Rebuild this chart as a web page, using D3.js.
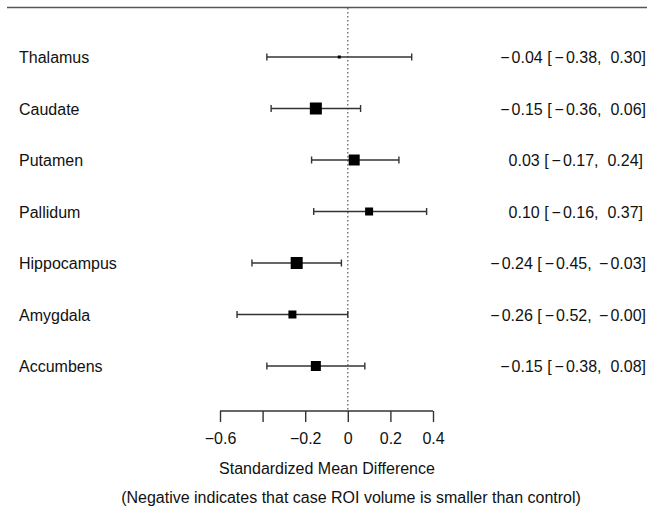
<!DOCTYPE html>
<meta charset="utf-8">
<style>
body { margin: 0; background: #fff; }
svg { font-family: "Liberation Sans", Arial, sans-serif; }
.lab { font-size: 16px; fill: #111; }
.minus { letter-spacing: 2px; }
</style>
<div id="chart"></div>
<script src="https://d3js.org/d3.v7.min.js"></script>
<script>
var regions = ["Thalamus", "Caudate", "Putamen", "Pallidum", "Hippocampus", "Amygdala", "Accumbens"];
var est = [-0.04, -0.15, 0.03, 0.10, -0.24, -0.26, -0.15];
var lower = [-0.38, -0.36, -0.17, -0.16, -0.45, -0.52, -0.38];
var upper = [0.30, 0.06, 0.24, 0.37, -0.03, -0.00, 0.08];
var boxSize = [3, 12, 11, 8, 12, 8, 10];   // square side (study weight)
var ticks = [-0.6, -0.4, -0.2, 0, 0.2, 0.4];
var tickLabels = ["−0.6", "", "−0.2", "0", "0.2", "0.4"];

var width = 647, height = 512;
var svg = d3.select("#chart").append("svg").attr("width", width).attr("height", height);

var x = d3.scaleLinear().domain([-0.6, 0.4]).range([220, 433]);
var y = d3.scalePoint().domain(regions).range([57, 366]);

function fmt(v) {
  var s = v.toFixed(2);
  if (v < 0 || Object.is(v, -0)) s = "−" + Math.abs(v).toFixed(2);
  return s;
}
function fmtHi(v) {
  return (v >= 0 && !Object.is(v, -0)) ? " " + fmt(v) : fmt(v);
}

// top rule
svg.append("line").attr("x1", 7).attr("x2", width).attr("y1", 7.5).attr("y2", 7.5)
  .attr("stroke", "#555").attr("stroke-width", 1.3);

// null line
svg.append("line").attr("x1", x(0)).attr("x2", x(0)).attr("y1", 8).attr("y2", 411)
  .attr("stroke", "#666").attr("stroke-dasharray", "1.5,2.5").attr("stroke-width", 1.3);

var rows = svg.selectAll("g.row").data(regions).enter().append("g").attr("class", "row");

rows.append("text").attr("class", "lab").attr("x", 19).attr("y", d => y(d) + 6).text(d => d);

rows.append("line")
  .attr("x1", (d, i) => x(lower[i])).attr("x2", (d, i) => x(upper[i]))
  .attr("y1", d => y(d)).attr("y2", d => y(d))
  .attr("stroke", "#333").attr("stroke-width", 1.4);

rows.append("line")
  .attr("x1", (d, i) => x(lower[i])).attr("x2", (d, i) => x(lower[i]))
  .attr("y1", d => y(d) - 3.5).attr("y2", d => y(d) + 3.5)
  .attr("stroke", "#333").attr("stroke-width", 1.4);
rows.append("line")
  .attr("x1", (d, i) => x(upper[i])).attr("x2", (d, i) => x(upper[i]))
  .attr("y1", d => y(d) - 3.5).attr("y2", d => y(d) + 3.5)
  .attr("stroke", "#333").attr("stroke-width", 1.4);

rows.append("rect")
  .attr("x", (d, i) => x(est[i]) - boxSize[i] / 2)
  .attr("y", (d, i) => y(d) - boxSize[i] / 2)
  .attr("width", (d, i) => boxSize[i]).attr("height", (d, i) => boxSize[i])
  .attr("fill", "#000");

// right-hand estimate [CI] text; minus signs get a little extra room
rows.each(function(d, i) {
  var s = fmt(est[i]) + " [" + fmt(lower[i]) + ", " + fmtHi(upper[i]) + "]";
  var t = d3.select(this).append("text").attr("class", "lab").attr("text-anchor", "end")
    .attr("x", 643).attr("y", y(d) + 6).style("white-space", "pre");
  s.split(/(−)/).forEach(function(part) {
    if (!part) return;
    var ts = t.append("tspan").text(part);
    if (part === "−") ts.attr("class", "minus").attr("dx", 3);
  });
});

// axis
var axis = d3.axisBottom(x).tickValues(ticks).tickSize(11).tickPadding(11)
  .tickFormat((d, i) => tickLabels[i]);
var ag = svg.append("g").attr("transform", "translate(0,411)").call(axis);
ag.select(".domain").attr("stroke", "#333").attr("stroke-width", 1.4)
  .attr("d", "M" + x(-0.6) + ",0H" + x(0.4));
ag.selectAll(".tick line").attr("stroke", "#333").attr("stroke-width", 1.4);
ag.selectAll(".tick text").attr("font-size", 16).attr("fill", "#111")
  .attr("font-family", "Liberation Sans, Arial, sans-serif");

svg.append("text").attr("class", "lab").attr("text-anchor", "middle")
  .attr("x", 327).attr("y", 474).text("Standardized Mean Difference");
svg.append("text").attr("class", "lab").attr("text-anchor", "middle")
  .attr("x", 351).attr("y", 503).text("(Negative indicates that case ROI volume is smaller than control)");
</script>
